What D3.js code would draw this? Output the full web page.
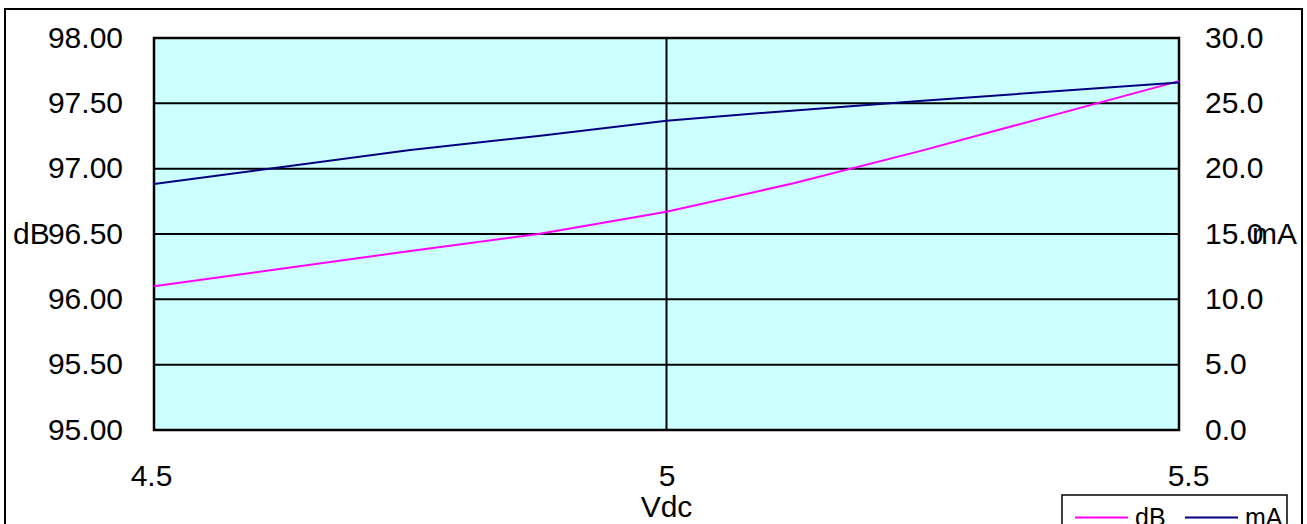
<!DOCTYPE html>
<html>
<head>
<meta charset="utf-8">
<script src="https://cdn.jsdelivr.net/npm/d3@7"></script>
<style>
  html, body { margin: 0; padding: 0; background: #ffffff; }
  svg { display: block; font-family: "Liberation Sans", Arial, sans-serif; }
</style>
</head>
<body>
<svg id="chart" width="1307" height="524"></svg>
<script>
// ---- data ----
const voltage = [4.5, 4.75, 4.875, 5.0, 5.125, 5.25, 5.5];
const dB      = [96.10, 96.37, 96.50, 96.67, 96.89, 97.14, 97.67];
const mA      = [18.83, 21.43, 22.50, 23.67, 24.46, 25.20, 26.60];
const leftTicks  = [95, 95.5, 96, 96.5, 97, 97.5, 98];
const rightTicks = [0, 5, 10, 15, 20, 25, 30];
const xTicks     = [4.5, 5, 5.5];
const xTickLabels = ["4.5", "5", "5.5"];
const seriesNames = ["dB", "mA"];

const svg = d3.select("#chart");
const plot = { left: 154, right: 1179, top: 38, bottom: 430 };

const x = d3.scaleLinear().domain([4.5, 5.5]).range([plot.left, plot.right]);
const yL = d3.scaleLinear().domain([95, 98]).range([plot.bottom, plot.top]);
const yR = d3.scaleLinear().domain([0, 30]).range([plot.bottom, plot.top]);

// outer frame
svg.append("rect").attr("x", 5).attr("y", 9).attr("width", 1297).attr("height", 540)
  .attr("fill", "#fff").attr("stroke", "#000").attr("stroke-width", 2);

// plot background
svg.append("rect").attr("x", plot.left).attr("y", plot.top)
  .attr("width", plot.right - plot.left).attr("height", plot.bottom - plot.top)
  .attr("fill", "#CCFFFF");

// horizontal gridlines
svg.append("g").selectAll("line").data(leftTicks).join("line")
  .attr("x1", plot.left).attr("x2", plot.right)
  .attr("y1", d => yL(d)).attr("y2", d => yL(d))
  .attr("stroke", "#000").attr("stroke-width", 2);

// vertical gridlines
svg.append("g").selectAll("line").data(xTicks).join("line")
  .attr("x1", d => x(d)).attr("x2", d => x(d))
  .attr("y1", plot.top).attr("y2", plot.bottom)
  .attr("stroke", "#000").attr("stroke-width", 2);

// plot border
svg.append("rect").attr("x", plot.left).attr("y", plot.top)
  .attr("width", plot.right - plot.left).attr("height", plot.bottom - plot.top)
  .attr("fill", "none").attr("stroke", "#000").attr("stroke-width", 2.5);

// axes (labels only)
const fontSize = 30;
const axL = svg.append("g").attr("transform", `translate(${plot.left - 31},0)`)
  .call(d3.axisLeft(yL).tickValues(leftTicks).tickSize(0).tickPadding(0).tickFormat(d => d.toFixed(2)));
const axR = svg.append("g").attr("transform", `translate(${plot.right + 26},0)`)
  .call(d3.axisRight(yR).tickValues(rightTicks).tickSize(0).tickPadding(0).tickFormat(d => d.toFixed(1)));
const axB = svg.append("g").attr("transform", `translate(0,${plot.bottom + 35})`)
  .call(d3.axisBottom(x).tickValues(xTicks).tickSize(0).tickPadding(0).tickFormat((d, i) => xTickLabels[i]));
[axL, axR, axB].forEach(a => {
  a.select(".domain").remove();
  a.selectAll("text").attr("font-size", fontSize).attr("fill", "#000")
    .attr("font-family", "'Liberation Sans', Arial, sans-serif");
});
axL.selectAll("text").attr("dy", "0.3em");
axR.selectAll("text").attr("dy", "0.3em");
const xNudge = [-3, 0, 9];
axB.selectAll("text").attr("dy", "0.71em").attr("dx", (d, i) => xNudge[i]);

// axis titles
svg.append("text").attr("x", 13).attr("y", yL(96.5)).attr("dy", "0.33em")
  .attr("font-size", fontSize).text("dB");
svg.append("text").attr("x", 1297).attr("y", yR(15)).attr("dy", "0.33em")
  .attr("text-anchor", "end").attr("font-size", fontSize).text("mA");
svg.append("text").attr("x", x(5)).attr("y", 517)
  .attr("text-anchor", "middle").attr("font-size", fontSize).text("Vdc");

// lines
const colors = ["#FF00FF", "#000080"];
const lineL = d3.line().x((d, i) => x(voltage[i])).y(d => yL(d));
const lineR = d3.line().x((d, i) => x(voltage[i])).y(d => yR(d));
svg.append("path").datum(dB).attr("d", lineL)
  .attr("fill", "none").attr("stroke", colors[0]).attr("stroke-width", 2);
svg.append("path").datum(mA).attr("d", lineR)
  .attr("fill", "none").attr("stroke", colors[1]).attr("stroke-width", 2);

// legend
const lg = svg.append("g");
lg.append("rect").attr("x", 1062).attr("y", 495).attr("width", 225).attr("height", 60)
  .attr("fill", "#fff").attr("stroke", "#000").attr("stroke-width", 1.5);
const legendItems = [
  { name: seriesNames[0], color: colors[0], x0: 1075 },
  { name: seriesNames[1], color: colors[1], x0: 1185 }
];
legendItems.forEach(it => {
  lg.append("line").attr("x1", it.x0).attr("x2", it.x0 + 53)
    .attr("y1", 517.5).attr("y2", 517.5).attr("stroke", it.color).attr("stroke-width", 2);
  lg.append("text").attr("x", it.x0 + 60).attr("y", 526)
    .attr("font-size", 25).text(it.name);
});
</script>
</body>
</html>
